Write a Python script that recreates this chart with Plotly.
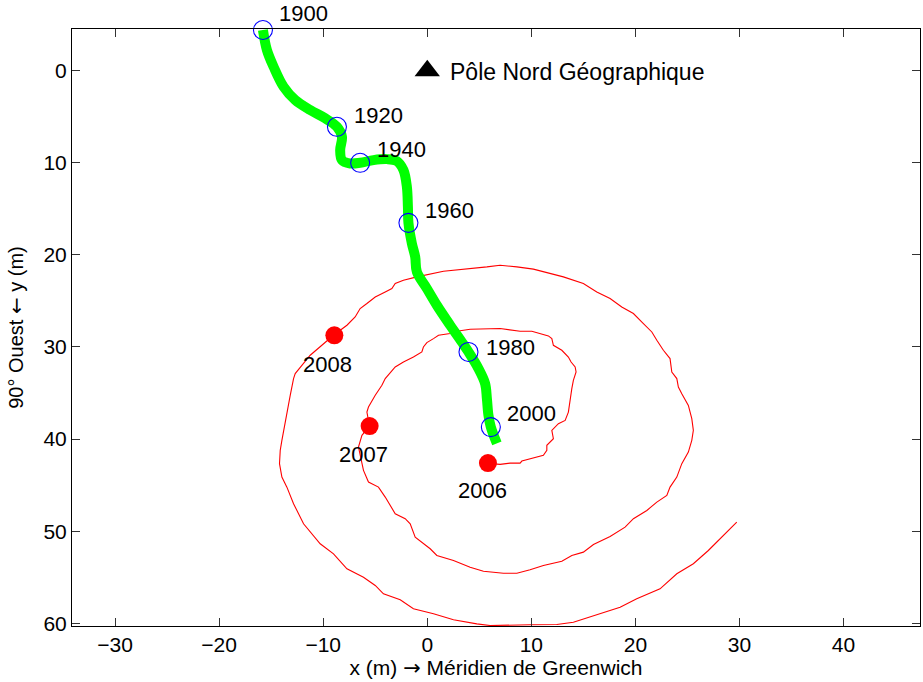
import plotly.graph_objects as go

# ---- Polar motion track 1900-2000 (m) ----
track_x = [-15.79, -15.41, -14.77, -13.81, -12.69, -11.25, -9.81, -8.68, -8.20, -8.37,
           -8.20, -7.41, -6.45, -5.17, -3.88, -2.92, -2.29, -1.96, -1.86, -1.81,
           -1.48, -1.16, -1.00, -0.04, 0.92, 2.20, 3.32, 3.96, 4.92, 5.56,
           5.73, 5.88, 6.11, 6.69]
track_y = [-4.42, -2.25, -0.43, 1.74, 3.18, 4.27, 5.17, 6.09, 7.17, 8.62,
           9.71, 10.07, 10.00, 9.71, 9.60, 9.82, 10.79, 12.61, 14.78, 16.52,
           18.76, 20.22, 21.85, 23.65, 25.47, 27.64, 29.46, 30.54, 32.35, 33.98,
           35.61, 37.42, 38.70, 40.47]

# ---- Decade markers ----
decade_years = ["1900", "1920", "1940", "1960", "1980", "2000"]
decade_x = [-15.79, -8.68, -6.45, -1.81, 3.96, 6.11]
decade_y = [-4.42, 6.09, 10.00, 16.52, 30.54, 38.70]
decade_label_x = [-11.92, -4.72, -2.51, 2.10, 7.96, 9.98]
decade_label_y = [-6.16, 4.83, 8.51, 15.14, 30.03, 37.20]

# ---- Spiral 2006-2008 (m) ----
spiral_x = [5.80, 7.00, 7.96, 8.92, 9.09, 10.20, 11.16, 11.49, 11.49, 12.12,
            11.97, 12.60, 13.25, 13.56, 13.73, 13.89, 14.04, 14.30, 14.21, 13.82,
            13.56, 12.93, 12.12, 11.97, 11.64, 10.85, 10.05, 8.92, 7.96, 7.00,
            4.12, 2.84, 2.20, 1.08, 0.60, -0.04, -0.37, -0.52, -1.33, -2.29,
            -3.08, -4.04, -4.36, -5.00, -5.65, -5.80, -5.55, -6.28, -6.61, -6.13,
            -5.65, -4.69, -4.04, -3.08, -2.12, -1.64, -1.16, -0.37, 0.28, 0.92,
            2.52, 4.12, 5.40, 7.32, 8.61, 9.88, 11.16, 12.93, 13.89, 15.00,
            15.97, 17.57, 19.01, 19.81, 21.10, 22.06, 23.02, 23.33, 23.98, 24.46,
            25.09, 25.42, 25.57, 25.42, 25.09, 24.46, 24.13, 23.98, 23.50, 23.33,
            22.69, 22.06, 21.58, 20.77, 19.81, 18.69, 17.57, 16.29, 15.00, 13.08,
            11.81, 10.20, 8.61, 7.00, 5.73, 3.80, 1.56, -1.00, -2.29, -3.08,
            -3.40, -4.04, -5.00, -5.80, -6.45, -6.93, -7.72, -9.01, -9.81, -11.25,
            -12.69, -12.85, -13.17, -13.49, -13.97, -14.13, -14.20, -13.97, -13.49, -12.85,
            -11.89, -10.29, -9.01, -7.72, -6.13, -5.00, -4.21, -2.60, -1.33, 0.60,
            2.52, 4.76, 6.04, 9.88, 12.45, 14.04, 16.61, 18.53, 20.13, 22.37,
            23.98, 25.57, 27.01, 28.45, 29.74]
spiral_y = [42.64, 42.75, 42.61, 42.61, 42.39, 42.02, 41.77, 41.23, 40.68, 39.96,
            39.05, 38.33, 37.97, 37.07, 35.61, 34.52, 33.62, 32.72, 32.17, 31.63,
            31.09, 30.36, 29.82, 29.09, 28.80, 28.54, 28.29, 28.29, 28.18, 28.00,
            28.08, 28.29, 28.54, 28.73, 29.09, 29.52, 30.00, 30.54, 31.09, 31.63,
            32.17, 33.43, 34.16, 35.25, 36.52, 37.07, 38.59, 39.60, 40.87, 43.40,
            44.67, 45.22, 46.30, 48.11, 48.65, 49.20, 50.65, 51.37, 51.91, 52.64,
            53.18, 53.91, 54.35, 54.57, 54.57, 54.20, 53.73, 53.26, 52.64, 52.28,
            51.45, 50.58, 49.57, 48.65, 47.75, 46.85, 46.12, 45.22, 44.13, 42.67,
            41.41, 40.14, 39.05, 37.78, 36.34, 35.07, 34.35, 33.43, 32.72, 31.26,
            30.36, 29.27, 28.37, 27.46, 26.37, 25.65, 24.74, 24.02, 23.11, 22.39,
            22.02, 21.55, 21.30, 21.12, 21.30, 21.48, 21.77, 22.39, 22.75, 23.11,
            23.65, 24.02, 24.57, 25.28, 25.83, 26.74, 27.64, 28.73, 29.52, 30.90,
            32.89, 33.43, 35.25, 37.07, 40.14, 41.23, 42.67, 44.13, 45.22, 47.02,
            49.20, 51.37, 52.46, 54.09, 55.00, 55.90, 56.80, 57.46, 58.43, 58.98,
            59.63, 60.07, 60.25, 60.17, 60.14, 59.89, 58.98, 58.26, 57.35, 56.26,
            54.63, 53.54, 52.10, 50.47, 49.02]

# ---- Yearly points on the spiral ----
recent_years = ["2006", "2007", "2008"]
recent_x = [5.83, -5.54, -8.93]
recent_y = [42.61, 38.59, 28.73]
recent_label_x = [5.27, -6.16, -9.59]
recent_label_y = [45.58, 41.66, 31.90]

# ---- Geographic pole ----
pole_x = [0.0]
pole_y = [0.0]
pole_label = "Pôle Nord Géographique"
pole_label_x = 2.0
pole_label_y = 0.1

x_ticks = [-30, -20, -10, 0, 10, 20, 30, 40]
y_ticks = [0, 10, 20, 30, 40, 50, 60]
x_range = [-34.14, 47.35]
y_range = [60.3, -4.53]   # reversed: y grows downward

FONT = "Liberation Sans, Arial, Helvetica, sans-serif"
ARROW = "font-family:'DejaVu Sans'"

fig = go.Figure()

fig.add_trace(go.Scatter(x=spiral_x, y=spiral_y, mode="lines",
                         line=dict(color="#ff0000", width=1.1),
                         hoverinfo="skip", showlegend=False))
fig.add_trace(go.Scatter(x=track_x, y=track_y, mode="lines",
                         line=dict(color="#00ff00", width=10, shape="spline"),
                         hoverinfo="skip", showlegend=False, cliponaxis=False))
fig.add_trace(go.Scatter(x=decade_x, y=decade_y, mode="markers",
                         marker=dict(symbol="circle-open", size=19, color="#0000ff",
                                     line=dict(color="#0000ff", width=1.1)),
                         showlegend=False, cliponaxis=False))
fig.add_trace(go.Scatter(x=recent_x, y=recent_y, mode="markers",
                         marker=dict(symbol="circle", size=18, color="#ff0000"),
                         showlegend=False))
fig.add_trace(go.Scatter(x=pole_x, y=pole_y, mode="markers",
                         marker=dict(symbol="triangle-up", size=22, color="black"),
                         showlegend=False))

annotations = []
lab_font = dict(family=FONT, size=22, color="black")
for t, lx, ly in zip(decade_years + recent_years,
                     decade_label_x + recent_label_x,
                     decade_label_y + recent_label_y):
    if y_range[1] <= ly <= y_range[0]:
        annotations.append(dict(x=lx, y=ly, xref="x", yref="y", text=t,
                                showarrow=False, font=lab_font,
                                xanchor="center", yanchor="middle"))
    else:
        # label above the plot box: place it in paper coordinates along y
        py = (ly - y_range[0]) / (y_range[1] - y_range[0])
        annotations.append(dict(x=lx, y=py, xref="x", yref="paper", text=t,
                                showarrow=False, font=lab_font,
                                xanchor="center", yanchor="middle"))
annotations.append(dict(x=pole_label_x, y=pole_label_y, xref="x", yref="y",
                        text=pole_label, showarrow=False, xanchor="left",
                        yanchor="middle",
                        font=dict(family=FONT, size=23, color="black")))

fig.update_layout(
    width=923, height=682,
    margin=dict(l=72, r=3, t=29, b=56, autoexpand=False),
    paper_bgcolor="white", plot_bgcolor="white",
    font=dict(family=FONT, size=20, color="black"),
    showlegend=False,
    annotations=annotations,
)
fig.update_xaxes(range=x_range, tickvals=x_ticks, ticks="inside", ticklen=8,
                 tickcolor="#333", showline=True, linecolor="black", linewidth=1,
                 mirror="ticks", showgrid=False, zeroline=False, automargin=False,
                 tickfont=dict(size=21),
                 title=dict(text="x (m) <span style=\"" + ARROW + "\">\u2192</span> Méridien de Greenwich",
                            font=dict(size=21), standoff=2))
fig.update_yaxes(range=y_range, tickvals=y_ticks, ticks="inside", ticklen=8,
                 tickcolor="#333", showline=True, linecolor="black", linewidth=1,
                 mirror="ticks", showgrid=False, zeroline=False, automargin=False,
                 tickfont=dict(size=21),
                 title=dict(text="90° Ouest <span style=\"" + ARROW + "\">\u2190</span> y (m)",
                            font=dict(size=20), standoff=14))

fig.write_html("out.html", config={"displayModeBar": False},
               post_script="document.body.style.margin='0';document.body.style.overflow='hidden';")
